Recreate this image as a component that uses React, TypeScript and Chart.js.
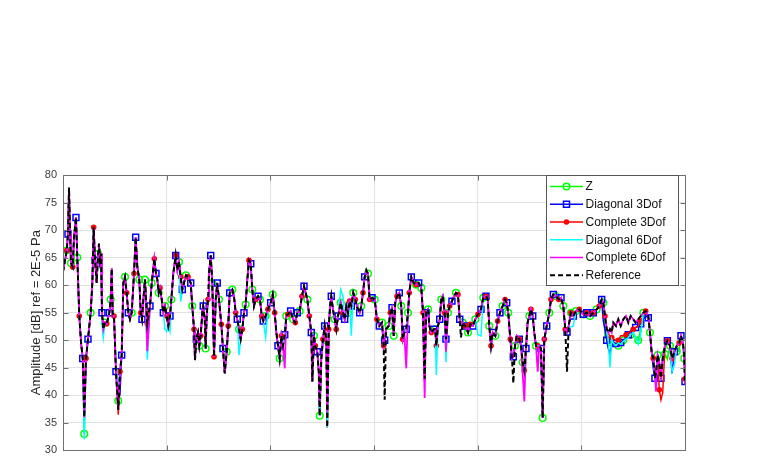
import { useEffect, useRef } from "react";
import { Chart, registerables } from "chart.js";

Chart.register(...registerables);

// Frequency axis (x), shared by all series
const freq = [
  0, 3.6, 4.8, 5.8, 6.8, 7.7, 9.4, 10.6, 12.5, 13.8,
  15.7, 17.4, 19.0, 19.6, 20.5, 22.2, 24.1, 26.7, 28.3, 29.6,
  30.9, 32.5, 33.8, 34.7, 35.7, 36.7, 37.6, 38.9, 40.5, 42.2,
  44.7, 46.0, 47.0, 47.9, 49.2, 51.1, 53.3, 55.0, 56.6, 58.2,
  59.8, 61.4, 63.0, 64.6, 66.3, 68.5, 70.1, 71.7, 73.6, 75.0,
  76.2, 77.5, 79.1, 81.3, 83.9, 85.6, 88.1, 89.7, 91.0, 92.3,
  93.6, 95.2, 96.8, 98.4, 100.0, 101.6, 103.2, 104.5, 106.4, 108.7,
  110.3, 111.9, 113.5, 115.1, 116.7, 118.6, 120.6, 123.2, 124.7, 126.4,
  127.3, 128.6, 130.2, 131.5, 132.8, 134.4, 135.3, 136.7, 137.6, 138.6,
  139.9, 140.8, 142.5, 144.0, 145.7, 147.3, 148.8, 150.5, 152.7, 154.3,
  156.0, 157.9, 159.4, 160.8, 163.3, 164.9, 166.6, 168.1, 169.8, 171.4,
  173.0, 174.6, 176.2, 177.8, 179.4, 181.1, 182.6, 184.2, 185.9, 188.1,
  190.0, 191.7, 193.2, 195.5, 197.7, 200.3, 202.3, 204.2, 205.8, 207.4,
  209.0, 210.6, 212.2, 213.9, 215.4, 217.0, 219.6, 221.9, 224.1, 226.0,
  228.3, 230.5, 232.5, 233.7, 235.7, 237.6, 239.5, 240.5, 242.1, 243.4,
  245.3, 246.7, 247.6, 249.2, 250.8, 252.4, 254.0, 254.9, 256.3, 257.6,
  258.8, 260.4, 262.1, 263.6, 265.3, 267.9, 270.1, 271.7, 273.3, 274.9,
  276.5, 278.1, 280.0, 282.0, 283.9, 286.2, 287.7, 289.4, 291.0, 292.6,
  294.2, 295.8, 298.1, 300.7, 302.8, 305.1, 307.7, 309.3, 310.3, 311.6,
  314.2, 315.7, 317.4, 319.0, 320.5, 322.2, 324.4, 326.3, 327.7, 329.2,
  331.1, 332.8, 334.0, 336.0, 338.3, 340.5, 343.1, 345.6, 347.3, 348.2,
  348.9, 350.2, 352.1, 353.4, 355.3, 357.6, 359.1, 360.1, 361.7, 363.4,
  364.9, 366.3, 368.2, 369.4, 371.4, 373.0, 375.2, 377.2, 379.1, 381.0,
  382.7, 383.9, 385.6, 388.1, 390.7, 392.9, 395.5, 397.7, 400.3, 403.2,
  405.4, 408.0, 409.7, 411.2, 412.9, 414.5, 417.0, 419.3, 421.5, 424.1,
  426.4, 428.0, 429.5, 431.5, 433.1, 434.4, 436.0, 437.7, 440.2, 441.8,
  443.4, 445.0, 446.6, 448.2, 449.8, 451.4, 453.1, 454.6, 456.3, 457.9,
  459.4, 461.1, 462.7, 464.3, 466.6, 469.1, 470.7, 473.0, 475.6, 478.2,
  480.4, 482.6, 484.5, 486.2, 487.8, 490.0, 492.3, 494.8, 498.0, 501.9,
  505.2, 508.4, 511.5, 514.8, 517.3, 519.6, 521.2, 522.8, 524.5, 526.0,
  527.6, 529.3, 530.8, 533.4, 535.7, 538.0, 540.5, 543.1, 545.3, 547.6,
  550.1, 552.4, 554.9, 557.3, 559.8, 562.1, 564.6, 566.2, 567.8, 569.4,
  571.0, 572.0, 573.6, 575.2, 576.8, 578.5, 580.7, 583.0, 585.5, 587.5,
  589.8, 592.1, 594.3, 596.1, 598.1, 599.3, 600,
];

const reference = [
  62.4, 66.3, 69.3, 77.7, 69.3, 64, 63.3, 68.7, 72.3, 65,
  54.4, 49.6, 46.7, 43, 36, 46.7, 50.2, 55, 60.4, 70.5,
  64.5, 60.4, 65.7, 67.5, 64.5, 65.7, 55, 52, 53.2, 53,
  55, 57.4, 63, 55, 54.4, 44.3, 37.4, 44.3, 47.3, 60.4,
  61.5, 58.6, 55, 53.8, 55, 62.1, 68.7, 63.3, 61, 55,
  53.8, 57.4, 61, 53, 56.2, 60.4, 64.8, 62.1, 61, 58.6,
  59.5, 57.4, 55, 56.2, 54.4, 52.6, 54.4, 57.4, 62.1, 65.4,
  62.7, 64.2, 61.5, 59.2, 60.4, 61.8, 61.5, 60.4, 56.2, 52,
  46.4, 50.2, 51.4, 49, 50.8, 55, 56.2, 53.8, 48.5, 54.4,
  57.4, 62.1, 65.4, 60.4, 47, 57.4, 60.4, 57.4, 52.9, 48.5,
  44, 47.9, 52.6, 58.6, 59.2, 58, 55, 53.8, 52, 50.2,
  52, 55, 56.5, 61, 64.5, 63.9, 59.2, 56.2, 57.4, 58,
  57.4, 54.4, 53.5, 54.4, 55.6, 56.8, 58.3, 55, 51.4, 49,
  46.7, 50.8, 49, 51, 54.4, 54.7, 55.3, 53.8, 53.2, 55,
  55.3, 58, 59.8, 58.9, 57.4, 54.4, 51.4, 42.5, 50.8, 49,
  47.9, 44.3, 36.3, 46.7, 50.2, 52.6, 50, 34.2, 52, 56.2,
  58, 55.6, 53.8, 52, 54.4, 56.8, 55, 53.8, 56.2, 55,
  57.1, 56.2, 58.6, 57.4, 55.9, 55, 56.2, 58.6, 61.5, 62.7,
  62.1, 57.4, 57.7, 57.4, 53.8, 52.6, 53.2, 49, 39.2, 52,
  52.6, 55, 55.9, 50.8, 56.8, 58, 58.6, 56.2, 50.2, 51.4,
  52, 55, 58.6, 61.5, 60.4, 60.1, 60.4, 59.5, 55, 47,
  43, 55, 55.6, 52.6, 51.4, 52, 52, 49, 52.6, 53.8,
  57.4, 58, 55, 50.2, 55, 56.2, 57.1, 58, 58.6, 58.3,
  53.8, 50.5, 53.2, 52.6, 51.4, 52.9, 52.6, 53.8, 54.7, 55.6,
  57.7, 58, 57.4, 52.6, 49, 51.4, 50.8, 53.5, 55, 56.2,
  57.4, 56.8, 55, 50.2, 46.7, 42.2, 49, 50.8, 50.2, 49,
  46, 44.5, 48.5, 53.2, 54.4, 55.6, 54.4, 51.4, 49, 49,
  49, 48.5, 35.9, 50.2, 52.6, 55, 57.4, 58.3, 58, 57.4,
  57.7, 56.2, 52, 44.3, 52.6, 55, 54.4, 55.3, 55.6, 54.7,
  55, 54.4, 55, 55.6, 56.2, 57.4, 56.8, 54.4, 52, 51.4,
  52, 51.4, 53.2, 52.6, 53.8, 52.6, 53.8, 54.4, 53.2, 54.4,
  53.8, 53.2, 53.8, 54.4, 55, 55.3, 54.4, 51.4, 47.9, 46.7,
  43.1, 44, 47.3, 46, 43.1, 46.7, 49, 49.9, 49, 46.7,
  47.9, 49, 49.5, 50.8, 49.5, 46.7, 42,
];

const complete6Dof = [
  62.4, 66.3, 69.3, 77.7, 69.3, 64, 63.3, 68.7, 72.3, 65,
  54.4, 49.6, 46.7, 43, 36, 46.7, 50.2, 55, 60.4, 70.5,
  64.5, 60.4, 65.7, 67.5, 64.5, 65.7, 55, 52, 53.2, 53,
  55, 57.4, 63, 55, 54.4, 44.3, 37.4, 44.3, 47.3, 60.4,
  61.5, 58.6, 55, 53.8, 55, 62.1, 68.7, 63.3, 61, 55,
  53.8, 57.4, 61, 48, 56.2, 60.4, 64.8, 62.1, 61, 58.6,
  59.5, 57.4, 55, 56.2, 54.4, 52.6, 54.4, 57.4, 62.1, 65.4,
  62.7, 64.2, 61.5, 59.2, 60.4, 61.8, 61.5, 60.4, 56.2, 52,
  46.4, 50.2, 51.4, 49, 50.8, 55, 56.2, 53.8, 48.5, 54.4,
  57.4, 62.1, 65.4, 60.4, 47, 57.4, 60.4, 57.4, 52.9, 48.5,
  44, 47.9, 52.6, 58.6, 59.2, 58, 55, 53.8, 52, 50.2,
  52, 55, 56.5, 61, 64.5, 63.9, 59.2, 56.2, 57.4, 58,
  57.4, 54.4, 53.5, 54.4, 55.6, 56.8, 58.3, 55, 51.4, 49,
  46.7, 50.8, 49, 44.9, 54.4, 54.7, 55.3, 53.8, 53.2, 55,
  55.3, 58, 59.8, 58.9, 57.4, 54.4, 51.4, 42.5, 50.8, 49,
  47.9, 44.3, 38, 46.7, 50.2, 52.6, 50, 37, 52, 56.2,
  58, 55.6, 53.8, 52, 54.4, 56.8, 55, 53.8, 56.2, 55,
  57.1, 56.2, 58.6, 57.4, 55.9, 55, 56.2, 58.6, 61.5, 62.7,
  62.1, 57.4, 57.7, 57.4, 53.8, 52.6, 53.2, 49, 50, 52,
  52.6, 55, 55.9, 50.8, 56.8, 58, 58.6, 56.2, 50.2, 51.4,
  44.9, 55, 58.6, 61.5, 60.4, 60.1, 60.4, 59.5, 55, 45,
  39.5, 55, 55.6, 52.6, 51.4, 52, 52, 49, 52.6, 53.8,
  57.4, 58, 55, 47.9, 55, 56.2, 57.1, 58, 58.6, 58.3,
  53.8, 53, 53.2, 52.6, 51.4, 52.9, 52.6, 53.8, 54.7, 55.6,
  57.7, 58, 57.4, 52.6, 49, 51.4, 50.8, 53.5, 55, 56.2,
  57.4, 56.8, 55, 50.2, 46.7, 47, 49, 50.8, 50.2, 49,
  44, 38.9, 48.5, 53.2, 54.4, 55.6, 54.4, 51.4, 49, 44.3,
  49, 48.5, 35.9, 50.2, 52.6, 55, 57.4, 58.3, 58, 57.4,
  57.7, 56.2, 52, 51.5, 52.6, 55, 54.4, 55.3, 55.6, 54.7,
  55, 54.4, 55, 55.6, 56.2, 57.4, 56.8, 54.4, 52, 51.4,
  52, 51.4, 53.2, 52.6, 53.8, 52.6, 53.8, 54.4, 53.2, 54.4,
  53.8, 53.2, 53.8, 54.4, 55, 55.3, 54.4, 51.4, 47.9, 46.7,
  44, 40.7, 47.3, 46, 43.1, 46.7, 49, 49.9, 49, 46.7,
  47.9, 49, 49.5, 50.8, 49.5, 46.7, 42,
];

const diagonal6Dof = [
  62.4, 66.3, 69.3, 77.7, 69.3, 64, 63.3, 68.7, 72.3, 65,
  54.4, 49.6, 46.7, 41, 32, 46.7, 50.2, 55, 60.4, 70.5,
  64.5, 60.4, 65.7, 67.5, 64.5, 65.7, 53, 50.5, 53.2, 53,
  55, 57.4, 63, 55, 54.4, 46, 41, 44.3, 47.3, 60.4,
  61.5, 58.6, 55, 53.8, 55, 62.1, 68.7, 63.3, 61, 55,
  53.8, 57.4, 61, 46.5, 56.2, 60.4, 64.8, 62.1, 61, 58.6,
  59.5, 57.4, 55, 52, 51.6, 52.6, 51.6, 57.4, 62.1, 65.4,
  62.7, 64.2, 57, 59.2, 60.4, 61.8, 61.5, 60.4, 56.2, 52,
  46.4, 50.2, 51.4, 49, 50.8, 55, 56.2, 53.8, 48.5, 54.4,
  57.4, 62.1, 65.4, 60.4, 47, 57.4, 60.4, 57.4, 52.9, 48.5,
  44, 47.9, 52.6, 58.6, 59.2, 58, 55, 53.8, 47.3, 50.2,
  52, 55, 56.5, 61, 64.5, 63.9, 59.2, 56.2, 57.4, 58,
  57.4, 54.4, 53.5, 50.5, 55.6, 56.8, 58.3, 55, 51.4, 49,
  46, 50.8, 49, 51, 54.4, 54.7, 55.3, 53.8, 53.2, 55,
  55.3, 58, 59.8, 58.9, 57.4, 54.4, 51.4, 42.5, 50.8, 49,
  47.9, 44.3, 36.3, 46.7, 50.2, 52.6, 50, 34.2, 52, 56.2,
  58, 55.6, 53.8, 52, 54.4, 59.2, 58, 53.8, 56.2, 55,
  57.1, 50.8, 58.6, 57.4, 55.9, 55, 56.2, 58.6, 61.5, 62.7,
  62.1, 57.4, 57.7, 57.4, 53.8, 52.6, 53.2, 49, 50, 52,
  52.6, 55, 55.9, 50.8, 56.8, 58, 58.6, 56.2, 50.2, 51.4,
  52, 55, 58.6, 61.5, 60.4, 60.1, 60.4, 59.5, 55, 47,
  43, 55, 55.6, 52.6, 51.4, 52, 52, 43.7, 52.6, 53.8,
  57.4, 58, 55, 46, 55, 56.2, 57.1, 58, 58.6, 58.3,
  53.8, 53, 53.2, 52.6, 51.4, 52.9, 52.6, 53.8, 51, 50.8,
  57.7, 58, 57.4, 52.6, 49, 51.4, 50.8, 53.5, 55, 56.2,
  57.4, 56.8, 55, 50.2, 46.7, 47, 49, 50.8, 50.2, 49,
  44.3, 44.5, 48.5, 53.2, 54.4, 55.6, 54.4, 51.4, 49, 49,
  49, 48.5, 35.9, 50.2, 52.6, 55, 57.4, 58.3, 58, 57.4,
  57.7, 56.2, 52, 51.5, 52.6, 52.4, 52.6, 55.3, 55.6, 54.7,
  55, 54.4, 55, 55.6, 56.2, 57.4, 56.8, 54.4, 52, 50,
  45, 50.2, 49.5, 49, 49.5, 49.3, 49.8, 50.2, 50.5, 51,
  51.4, 50.5, 49.3, 51, 55, 55.3, 54.4, 51.4, 47.9, 46.7,
  43.1, 44, 47.3, 46, 43.1, 46.7, 49, 49.9, 49, 44.3,
  45.5, 49, 49.5, 50.8, 49.5, 46.7, 42,
];

const complete3Dof = [
  62.4, 66.3, 69.3, 77.7, 69.3, 64, 63.3, 68.7, 72.3, 65,
  54.4, 49.6, 46.7, 43, 42, 46.7, 50.2, 55, 60.4, 70.5,
  64.5, 60.4, 65.7, 67.5, 64.5, 65.7, 55, 52, 53.2, 53,
  55, 57.4, 63, 55, 54.4, 44.3, 36.5, 44.3, 47.3, 60.4,
  61.5, 58.6, 55, 53.8, 55, 62.1, 68.7, 63.3, 61, 55,
  53.8, 57.4, 61, 53, 56.2, 60.4, 64.8, 62.1, 61, 58.6,
  59.5, 57.4, 55, 56.2, 54.4, 52.6, 54.4, 57.4, 62.1, 65.4,
  62.7, 64.2, 61.5, 59.2, 60.4, 61.8, 61.5, 60.4, 56.2, 52,
  46.4, 50.2, 51.4, 49, 50.8, 55, 56.2, 53.8, 48.5, 54.4,
  57.4, 62.1, 65.4, 60.4, 47, 57.4, 60.4, 57.4, 52.9, 48.5,
  44, 47.9, 52.6, 58.6, 59.2, 58, 55, 53.8, 52, 50.2,
  52, 55, 56.5, 61, 64.5, 63.9, 59.2, 56.2, 57.4, 58,
  57.4, 54.4, 53.5, 54.4, 55.6, 56.8, 58.3, 55, 51.4, 49,
  46.7, 50.8, 49, 51, 54.4, 54.7, 55.3, 53.8, 53.2, 55,
  55.3, 58, 59.8, 58.9, 57.4, 54.4, 51.4, 42.5, 50.8, 49,
  47.9, 44.3, 36.3, 46.7, 50.2, 52.6, 50, 34.2, 52, 56.2,
  58, 55.6, 53.8, 52, 54.4, 56.8, 55, 53.8, 56.2, 55,
  57.1, 56.2, 58.6, 57.4, 55.9, 55, 56.2, 58.6, 61.5, 62.7,
  62.1, 57.4, 57.7, 57.4, 53.8, 52.6, 53.2, 49, 50, 52,
  52.6, 55, 55.9, 50.8, 56.8, 58, 58.6, 56.2, 50.2, 51.4,
  52, 55, 58.6, 61.5, 60.4, 60.1, 60.4, 59.5, 55, 47,
  43, 55, 55.6, 52.6, 51.4, 52, 52, 49, 52.6, 53.8,
  57.4, 58, 55, 50.2, 55, 56.2, 57.1, 58, 58.6, 58.3,
  53.8, 53, 53.2, 52.6, 51.4, 52.9, 52.6, 53.8, 54.7, 55.6,
  57.7, 58, 57.4, 52.6, 49, 51.4, 50.8, 53.5, 55, 56.2,
  57.4, 56.8, 55, 50.2, 46.7, 47, 49, 50.8, 50.2, 49,
  46, 44.5, 48.5, 53.2, 54.4, 55.6, 54.4, 51.4, 49, 49,
  49, 48.5, 35.9, 50.2, 52.6, 55, 57.4, 58.3, 58, 57.4,
  57.7, 56.2, 52, 51.5, 52.6, 55, 54.4, 55.3, 55.6, 54.7,
  55, 54.4, 55, 55.6, 56.2, 57.4, 56.8, 54.4, 52, 51.4,
  50.5, 50.5, 50.2, 50, 50, 50.8, 50.8, 51, 51.4, 51.6,
  52, 52.3, 52.6, 53.5, 54.4, 55.3, 54.4, 51.4, 47.9, 46.7,
  43.1, 44, 47.3, 41, 39.2, 40.5, 49, 49.9, 49, 46.7,
  47.9, 49, 49.5, 50.8, 49.5, 46.7, 43,
];

const diagonal3Dof = [
  62.4, 66.3, 69.3, 77.7, 69.3, 64, 63.3, 68.7, 72.3, 65,
  54.4, 49.6, 46.7, 43, 36, 46.7, 50.2, 55, 60.4, 70.5,
  64.5, 60.4, 65.7, 67.5, 64.5, 65.7, 55, 52, 53.2, 53,
  55, 57.4, 63, 55, 54.4, 44.3, 39, 40.2, 47.3, 60.4,
  61.5, 58.6, 55, 53.8, 55, 62.1, 68.7, 63.3, 61, 55,
  53.8, 57.4, 61, 53, 56.2, 60.4, 64.8, 62.1, 61, 58.6,
  59.5, 57.4, 55, 56.2, 54.4, 52.6, 54.4, 57.4, 62.1, 65.4,
  62.7, 64.2, 61.5, 59.2, 60.4, 61.8, 61.5, 60.4, 56.2, 52,
  46.4, 50.2, 51.4, 49, 50.8, 55, 56.2, 53.8, 48.5, 54.4,
  57.4, 62.1, 65.4, 60.4, 47, 57.4, 60.4, 57.4, 52.9, 48.5,
  44, 47.9, 52.6, 58.6, 59.2, 58, 55, 53.8, 52, 50.2,
  52, 55, 56.5, 61, 64.5, 63.9, 59.2, 56.2, 57.4, 58,
  57.4, 54.4, 53.5, 54.4, 55.6, 56.8, 58.3, 55, 51.4, 49,
  46.7, 50.8, 49, 51, 54.4, 54.7, 55.3, 53.8, 53.2, 55,
  55.3, 58, 59.8, 58.9, 57.4, 54.4, 51.4, 42.5, 50.8, 49,
  47.9, 44.3, 36.3, 46.7, 50.2, 52.6, 50, 34.2, 52, 56.2,
  58, 55.6, 53.8, 52, 54.4, 56.8, 55, 53.8, 56.2, 55,
  57.1, 56.2, 58.6, 57.4, 55.9, 55, 56.2, 58.6, 61.5, 62.7,
  62.1, 57.4, 57.7, 57.4, 53.8, 52.6, 53.2, 49, 50, 52,
  52.6, 55, 55.9, 50.8, 56.8, 58, 58.6, 56.2, 50.2, 51.4,
  52, 55, 58.6, 61.5, 60.4, 60.1, 60.4, 59.5, 55, 47,
  42.7, 55, 55.6, 52.6, 51.4, 52, 52, 49, 52.6, 53.8,
  57.4, 58, 55, 50.2, 55, 56.2, 57.1, 58, 58.6, 58.3,
  53.8, 53, 53.2, 52.6, 51.4, 52.9, 52.6, 53.8, 54.7, 55.6,
  57.7, 58, 57.4, 52.6, 49, 51.4, 50.8, 53.5, 55, 56.2,
  57.4, 56.8, 55, 50.2, 46.7, 47, 49, 50.8, 50.2, 49,
  46, 44.5, 48.5, 53.2, 54.4, 55.6, 54.4, 51.4, 49, 49,
  49, 48.5, 35.9, 50.2, 52.6, 55, 57.4, 58.3, 58, 57.4,
  57.7, 56.2, 52, 51.5, 52.6, 55, 54.4, 55.3, 55.6, 54.7,
  55, 54.4, 55, 55.6, 56.2, 57.4, 53.5, 52, 50, 48.5,
  47.6, 49, 49.6, 49.4, 49.3, 49.6, 50, 50.2, 51, 51.8,
  52, 52.3, 52.6, 53, 53.8, 54.4, 54.1, 51.4, 47.9, 44.9,
  43.1, 44, 47.3, 44.3, 43.1, 46.7, 49, 49.9, 49, 44,
  47.9, 49, 49.5, 50.8, 49.5, 46.7, 42.5,
];

const zDof = [
  62.4, 66.3, 69.3, 77.7, 69.3, 64, 63.3, 68.7, 72.3, 65,
  54.4, 49.6, 46.7, 40, 33, 46.7, 50.2, 55, 60.4, 70.5,
  64.5, 60.4, 65.7, 67.5, 64.5, 65.7, 55, 52, 53.2, 53,
  55, 57.4, 63, 55, 54.4, 44, 39, 44.3, 47.3, 60.4,
  61.5, 58.6, 55, 53.8, 55, 62.1, 68.7, 63.3, 61, 55,
  53.8, 57.4, 61, 53, 56.2, 60.4, 64.8, 62.1, 61, 58.6,
  59.5, 57.4, 55, 56.2, 54.4, 52.6, 54.4, 57.4, 62.1, 65.4,
  62.7, 64.2, 61.5, 59.2, 60.4, 61.8, 61.5, 60.4, 56.2, 52,
  46.4, 50.2, 51.4, 49, 50.8, 55, 56.2, 53.8, 48.5, 54.4,
  57.4, 62.1, 65.4, 60.4, 47, 57.4, 60.4, 57.4, 52.9, 48.5,
  44, 47.9, 52.6, 58.6, 59.2, 58, 55, 53.8, 52, 50.2,
  52, 55, 56.5, 61, 64.5, 63.9, 59.2, 56.2, 57.4, 58,
  57.4, 54.4, 53.5, 54.4, 55.6, 56.8, 58.3, 55, 51.4, 49,
  46.7, 50.8, 49, 51, 54.4, 54.7, 55.3, 53.8, 53.2, 55,
  55.3, 58, 59.8, 58.9, 57.4, 54.4, 51.4, 42.5, 50.8, 49,
  47.9, 44.3, 36.3, 46.7, 50.2, 52.6, 50, 34.2, 52, 56.2,
  58, 55.6, 53.8, 52, 54.4, 56.8, 55, 53.8, 56.2, 55,
  57.1, 56.2, 58.6, 57.4, 55.9, 55, 56.2, 58.6, 61.5, 62.9,
  62.1, 57.4, 57.7, 57.4, 53.8, 52.6, 53.2, 49, 50, 52,
  52.6, 55, 55.9, 50.8, 56.8, 58, 58.6, 56.2, 50.2, 51.4,
  52, 55, 58.6, 61.5, 60.4, 60.1, 60.4, 59.5, 55, 47,
  43, 55, 55.6, 52.6, 51.4, 52, 52, 49, 52.6, 53.8,
  57.4, 58, 55, 50.2, 55, 56.2, 57.1, 58, 58.6, 58.3,
  53.8, 53, 53.2, 52.6, 51.4, 52.9, 52.6, 53.8, 54.7, 55.6,
  57.7, 58, 57.4, 52.6, 49, 51.4, 50.8, 53.5, 55, 56.2,
  57.4, 56.8, 55, 50.2, 46.7, 47, 49, 50.8, 50.2, 49,
  46, 44.5, 48.5, 53.2, 54.4, 55.6, 54.4, 51.4, 49, 49,
  49, 48.5, 35.9, 50.2, 52.6, 55, 57.4, 58.3, 58, 57.4,
  57.7, 56.2, 52, 51.5, 52.6, 55, 54.4, 55.3, 55.6, 54.7,
  55, 54.4, 55, 55.6, 56.2, 57.4, 56.8, 50.5, 50.2, 50,
  49.7, 49.5, 49.3, 49, 49, 49.5, 50, 50.5, 50.8, 51,
  51, 50.5, 50, 52, 55, 55.3, 54.4, 51.4, 47.9, 46.7,
  43.1, 44, 47.3, 46, 43.1, 46.7, 47.5, 46.5, 49, 46.7,
  47.9, 48, 48, 50.8, 49.5, 46.7, 42,
];

const yTicks = [30, 35, 40, 45, 50, 55, 60, 65, 70, 75, 80];
const xTicks = [0, 100, 200, 300, 400, 500, 600];
const yAxisTitle = "Amplitude [dB] ref = 2E-5 Pa";
const legendLabels = ["Z", "Diagonal 3Dof", "Complete 3Dof", "Diagonal 6Dof", "Complete 6Dof", "Reference"];

const FONT = '"Liberation Sans", Arial, Helvetica, sans-serif';
const COLORS = ["#00ff00", "#0000ff", "#ff0000", "#00ffff", "#ff00ff", "#000000"];

function toXY(vals: number[]) {
  return vals.map((v, i) => ({ x: freq[i], y: v }));
}

// marker shown on the first sample that enters each new frequency step (like MATLAB MarkerIndices)
function markerSpacing(step: number, offset: number, r: number, markLast = false) {
  return (c: any) => {
    const i = c.dataIndex;
    if (i === 0) return 0;
    if (markLast && i === freq.length - 1) return r;
    const a = Math.floor((freq[i] - offset) / step);
    const b = Math.floor((freq[i - 1] - offset) / step);
    return a !== b ? r : 0;
  };
}

function drawMarker(ctx: CanvasRenderingContext2D, kind: string, x: number, y: number, color: string) {
  ctx.save();
  ctx.setLineDash([]);
  ctx.lineWidth = 1.5;
  ctx.strokeStyle = color;
  ctx.fillStyle = color;
  if (kind === "circle") {
    ctx.beginPath();
    ctx.arc(x, y, 3.3, 0, Math.PI * 2);
    ctx.stroke();
  } else if (kind === "rect") {
    ctx.strokeRect(x - 3, y - 3, 6, 6);
  } else if (kind === "dot") {
    ctx.beginPath();
    ctx.arc(x, y, 2.8, 0, Math.PI * 2);
    ctx.fill();
  }
  ctx.restore();
}

const framePlugin = {
  id: "matlabFrame",
  afterDatasetsDraw(chart: any) {
    const { ctx, chartArea: a, scales } = chart;
    ctx.save();
    ctx.strokeStyle = "#707070";
    ctx.lineWidth = 1;
    ctx.setLineDash([]);
    const L = Math.round(a.left) + 0.5;
    const R = Math.round(a.right) + 0.5;
    const T = Math.round(a.top) + 0.5;
    const B = Math.round(a.bottom) + 0.5;
    ctx.strokeRect(L, T, R - L, B - T);
    ctx.beginPath();
    yTicks.forEach((t) => {
      const py = Math.round(scales.y.getPixelForValue(t)) + 0.5;
      ctx.moveTo(L, py);
      ctx.lineTo(L + 5, py);
      ctx.moveTo(R, py);
      ctx.lineTo(R - 5, py);
    });
    xTicks.forEach((t) => {
      const px = Math.round(scales.x.getPixelForValue(t)) + 0.5;
      ctx.moveTo(px, B);
      ctx.lineTo(px, B - 5);
      ctx.moveTo(px, T);
      ctx.lineTo(px, T + 5);
    });
    ctx.stroke();

    ctx.save();
    ctx.translate(36, (a.top + a.bottom) / 2);
    ctx.rotate(-Math.PI / 2);
    ctx.font = `13px ${FONT}`;
    ctx.fillStyle = "#262626";
    ctx.textAlign = "center";
    ctx.textBaseline = "middle";
    ctx.fillText(yAxisTitle, 0, 0);
    ctx.restore();

    const bx = 546.5, by = 175.5, bw = 132, bh = 110;
    ctx.fillStyle = "#ffffff";
    ctx.fillRect(bx, by, bw, bh);
    ctx.strokeStyle = "#555555";
    ctx.lineWidth = 1;
    ctx.strokeRect(bx, by, bw, bh);
    const markers = ["circle", "rect", "dot", "", "", ""];
    legendLabels.forEach((label, i) => {
      const yy = 186.5 + i * 17.75;
      ctx.save();
      ctx.strokeStyle = COLORS[i];
      ctx.lineWidth = i === 5 ? 2 : 1.5;
      ctx.setLineDash(i === 5 ? [5, 3] : []);
      ctx.beginPath();
      ctx.moveTo(550, yy);
      ctx.lineTo(583, yy);
      ctx.stroke();
      ctx.restore();
      if (markers[i]) drawMarker(ctx, markers[i], 566.5, yy, COLORS[i]);
      ctx.font = `12px ${FONT}`;
      ctx.fillStyle = "#111111";
      ctx.textAlign = "left";
      ctx.textBaseline = "middle";
      ctx.fillText(label, 585.5, yy + 0.5);
    });
    ctx.restore();
  },
};

export default function App() {
  const ref = useRef<HTMLCanvasElement | null>(null);

  useEffect(() => {
    if (!ref.current) return;
    const chart = new Chart(ref.current, {
      type: "line",
      data: {
        datasets: [
          {
            label: legendLabels[0],
            data: toXY(zDof),
            borderColor: COLORS[0],
            borderWidth: 1.5,
            pointStyle: "circle",
            pointRadius: markerSpacing(6.5, 0.5, 3.3),
            pointBorderColor: COLORS[0],
            pointBackgroundColor: "rgba(0,0,0,0)",
            pointBorderWidth: 1.5,
            order: 5,
          },
          {
            label: legendLabels[1],
            data: toXY(diagonal3Dof),
            borderColor: COLORS[1],
            borderWidth: 1.5,
            pointStyle: "rect",
            pointRadius: markerSpacing(6.5, 4.5, 4.2, true),
            pointBorderColor: COLORS[1],
            pointBackgroundColor: "rgba(0,0,0,0)",
            pointBorderWidth: 1.5,
            order: 4,
          },
          {
            label: legendLabels[2],
            data: toXY(complete3Dof),
            borderColor: COLORS[2],
            borderWidth: 1.5,
            pointStyle: "circle",
            pointRadius: markerSpacing(6.5, 2.5, 2.8, true),
            pointBorderColor: COLORS[2],
            pointBackgroundColor: COLORS[2],
            pointBorderWidth: 0,
            order: 3,
          },
          {
            label: legendLabels[3],
            data: toXY(diagonal6Dof),
            borderColor: COLORS[3],
            borderWidth: 1.5,
            pointRadius: 0,
            order: 2,
          },
          {
            label: legendLabels[4],
            data: toXY(complete6Dof),
            borderColor: COLORS[4],
            borderWidth: 1.8,
            pointRadius: 0,
            order: 1,
          },
          {
            label: legendLabels[5],
            data: toXY(reference),
            borderColor: COLORS[5],
            borderWidth: 2,
            borderDash: [5, 3],
            pointRadius: 0,
            order: 0,
          },
        ],
      },
      options: {
        animation: false,
        responsive: false,
        events: [],
        parsing: false as any,
        normalized: true,
        layout: { padding: { left: 0, top: 175, right: 73, bottom: 8 } },
        plugins: { legend: { display: false }, tooltip: { enabled: false }, title: { display: false } },
        elements: { line: { tension: 0 } },
        scales: {
          x: {
            type: "linear",
            min: 0,
            max: 600,
            afterBuildTicks: (s: any) => {
              s.ticks = xTicks.map((v) => ({ value: v }));
            },
            afterFit: (s: any) => {
              s.height = 0;
            },
            ticks: { display: false },
            grid: { color: "#e2e2e2", lineWidth: 1, drawTicks: false },
            border: { display: false },
          },
          y: {
            type: "linear",
            min: 30,
            max: 80,
            afterBuildTicks: (s: any) => {
              s.ticks = yTicks.map((v) => ({ value: v }));
            },
            afterFit: (s: any) => {
              s.width = 63;
            },
            ticks: {
              color: "#3a3a3a",
              font: { family: FONT, size: 11 },
              padding: 6,
            },
            grid: { color: "#e2e2e2", lineWidth: 1, drawTicks: false },
            border: { display: false },
          },
        },
      },
      plugins: [framePlugin],
    });
    return () => chart.destroy();
  }, []);

  return (
    <div style={{ position: "absolute", left: 0, top: 0, width: 758, height: 463, background: "#fff" }}>
      <canvas ref={ref} width={758} height={463} style={{ display: "block" }} />
    </div>
  );
}
